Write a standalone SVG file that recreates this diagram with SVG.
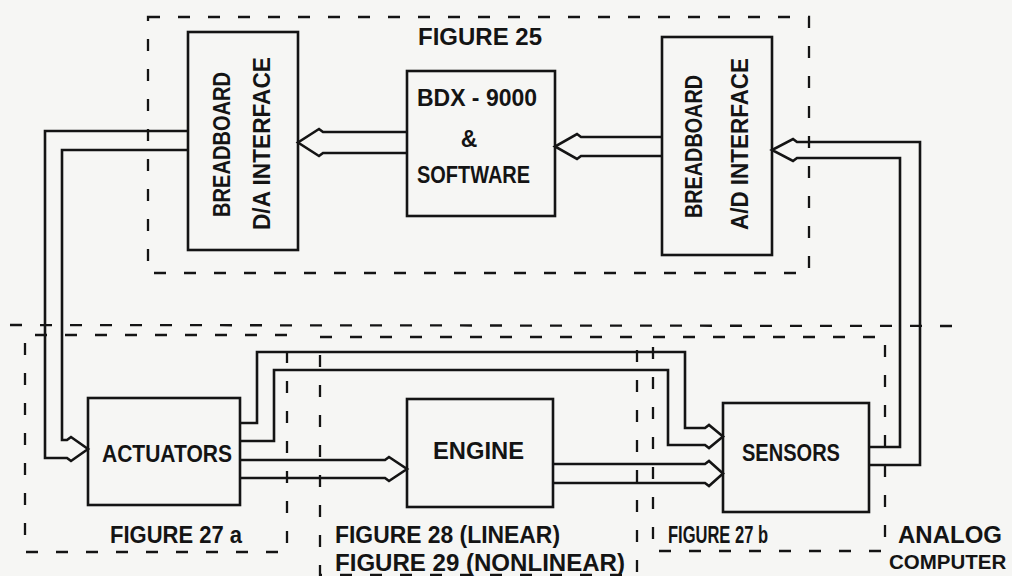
<svg xmlns="http://www.w3.org/2000/svg" width="1012" height="576" viewBox="0 0 1012 576">
<style>
.bg{fill:#f6f6f4}
.box{fill:none;stroke:#141414;stroke-width:2.6}
.dash{fill:none;stroke:#141414;stroke-width:2.3;stroke-dasharray:12 18}
.conn{fill:none;stroke:#141414;stroke-width:2.6;stroke-linejoin:miter}
text{font-family:"Liberation Sans",Arial,sans-serif;font-weight:bold;font-size:23px;fill:#141414}
.m{text-anchor:middle}
</style>
<rect class="bg" x="0" y="0" width="1012" height="576"/>

<g id="boundaries">
  <rect id="fig25" class="dash" x="148" y="17" width="661" height="256"/>
  <line id="analog-boundary" class="dash" x1="10" y1="325" x2="962" y2="326"/>
  <path id="fig27a" class="dash" d="M287,335 H25 V552 H287 Z"/>
  <path id="fig28" class="dash" d="M320,337 H637 V575 H320 Z"/>
  <path id="fig27b" class="dash" d="M653,337 H885 V551 H653 Z"/>
</g>

<g id="labels">
  <text x="418" y="45" textLength="124" lengthAdjust="spacingAndGlyphs">FIGURE 25</text>
  <text x="110" y="543" textLength="132" lengthAdjust="spacingAndGlyphs">FIGURE 27 a</text>
  <text x="335" y="543" textLength="225" lengthAdjust="spacingAndGlyphs">FIGURE 28 (LINEAR)</text>
  <text x="335" y="571" textLength="290" lengthAdjust="spacingAndGlyphs">FIGURE 29 (NONLINEAR)</text>
  <text x="668" y="543" textLength="100" lengthAdjust="spacingAndGlyphs">FIGURE 27 b</text>
  <text x="898" y="543" textLength="104" lengthAdjust="spacingAndGlyphs">ANALOG</text>
  <text x="889" y="569" style="font-size:20.5px">COMPUTER</text>
</g>

<g id="da-interface">
  <rect class="box" x="188" y="32" width="110" height="218"/>
  <text class="m" transform="translate(230,144.5) rotate(-90)" textLength="145" lengthAdjust="spacingAndGlyphs">BREADBOARD</text>
  <text class="m" transform="translate(270,143.5) rotate(-90)" textLength="173" lengthAdjust="spacingAndGlyphs">D/A INTERFACE</text>
</g>

<g id="bdx9000">
  <rect class="box" x="407" y="71" width="148" height="145"/>
  <text x="417" y="106" textLength="120" lengthAdjust="spacingAndGlyphs">BDX - 9000</text>
  <text class="m" x="469" y="147">&amp;</text>
  <text x="417" y="183" textLength="113" lengthAdjust="spacingAndGlyphs">SOFTWARE</text>
</g>

<g id="ad-interface">
  <rect class="box" x="662" y="37" width="110" height="218"/>
  <text class="m" transform="translate(702,146.5) rotate(-90)" textLength="143" lengthAdjust="spacingAndGlyphs">BREADBOARD</text>
  <text class="m" transform="translate(748,144) rotate(-90)" textLength="172" lengthAdjust="spacingAndGlyphs">A/D INTERFACE</text>
</g>

<g id="actuators">
  <rect class="box" x="88" y="398" width="152" height="107"/>
  <text x="102" y="462" textLength="130" lengthAdjust="spacingAndGlyphs">ACTUATORS</text>
</g>

<g id="engine">
  <rect class="box" x="407" y="399" width="146" height="108"/>
  <text x="433" y="459" textLength="91" lengthAdjust="spacingAndGlyphs">ENGINE</text>
</g>

<g id="sensors">
  <rect class="box" x="723" y="403" width="146" height="109"/>
  <text x="742" y="461" textLength="98" lengthAdjust="spacingAndGlyphs">SENSORS</text>
</g>

<g id="connectors">
  <path class="conn" d="M407,132 H323 L319,129 L298,142.5 L319,156 L323,153 H407"/>
  <path class="conn" d="M662,137 H581 L577,134 L555,146.5 L577,159 L581,156 H662"/>
  <path class="conn" d="M869,465 H920 V142 H797 L793,139 L772,150 L793,161 L797,158 H900 V447 H869"/>
  <path class="conn" d="M188,131 H45 V458 H67 L71,461 L88,449 L71,437 L67,440 H62 V150 H188"/>
  <path class="conn" d="M240,423 H257 V352 H685 V428 H705 L709,425 L723,436.5 L709,448 L705,445 H668 V370 H274 V441 H240"/>
  <path class="conn" d="M240,460 H385 L389,457 L407,469 L389,481 L385,478 H240"/>
  <path class="conn" d="M553,464 H705 L709,461 L723,473.5 L709,486 L705,483 H553"/>
</g>
</svg>
